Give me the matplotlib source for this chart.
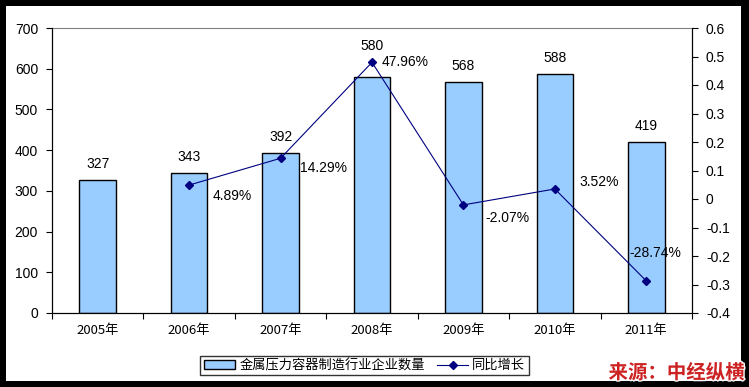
import matplotlib
matplotlib.use("Agg")
import matplotlib.pyplot as plt
import matplotlib.patheffects as pe
from matplotlib.patches import Rectangle
import numpy as np

years = ["2005年", "2006年", "2007年", "2008年", "2009年", "2010年", "2011年"]
counts = [327, 343, 392, 580, 568, 588, 419]
growth = [None, 0.0489, 0.1429, 0.4796, -0.0207, 0.0352, -0.2874]
growth_labels = ["", "4.89%", "14.29%", "47.96%", "-2.07%", "3.52%", "-28.74%"]
left_ticks = [0, 100, 200, 300, 400, 500, 600, 700]
right_ticks = [-0.4, -0.3, -0.2, -0.1, 0, 0.1, 0.2, 0.3, 0.4, 0.5, 0.6]

plt.rcParams['font.family'] = ['Liberation Sans', 'Noto Sans CJK SC', 'DejaVu Sans']

W, H = 749, 387
fig = plt.figure(figsize=(W/100, H/100), dpi=100, facecolor='black')
fig.patches.append(Rectangle((6/W, 1-381/H), (741-6)/W, (381-6)/H,
                             transform=fig.transFigure, facecolor='white',
                             edgecolor='none', zorder=-10))

ax = fig.add_axes([52/W, 1-313/H, (692-52)/W, (313-28)/H])
ax.set_facecolor('white')
x = np.arange(len(years))
ax.bar(x, counts, width=0.4, color='#99CCFF', edgecolor='black', linewidth=1.0,
       label='金属压力容器制造行业企业数量', zorder=2)
ax.set_xlim(-0.5, len(years)-0.5)
ax.set_ylim(0, 700)
ax.set_yticks(left_ticks)
ax.set_yticklabels([str(v) for v in left_ticks], fontsize=10)
ax.set_xticks(np.arange(len(years)+1)-0.5)
ax.set_xticklabels([])
ax.set_xticks(x, minor=True)
ax.set_xticklabels(years, minor=True, fontsize=9.5, family=['Noto Sans CJK SC'])
ax.tick_params(axis='x', which='minor', length=0, pad=8)
ax.tick_params(axis='x', which='major', length=4, direction='out', color='black')
ax.tick_params(axis='y', length=4, direction='out', pad=6)
for sp in ['left', 'bottom', 'right']:
    ax.spines[sp].set_color('black')
ax.spines['top'].set_color('#808080')

bar_label_gap = [16, 16, 16, 31, 16, 16, 16]
for xi, c, gap in zip(x, counts, bar_label_gap):
    ax.annotate(str(c), (xi, c), xytext=(0, gap), textcoords='offset pixels',
                ha='center', va='center', fontsize=10)

ax2 = ax.twinx()
ax2.set_ylim(-0.4, 0.6)
ax2.set_yticks(right_ticks)
ax2.set_yticklabels(["0" if abs(v) < 1e-9 else f"{v:g}" for v in right_ticks], fontsize=10)
ax2.tick_params(axis='y', length=4, direction='out', pad=6)
ax2.spines['right'].set_color('black')
ax2.spines['top'].set_visible(False)
gx = [xi for xi, g in zip(x, growth) if g is not None]
gy = [g for g in growth if g is not None]
ax2.plot(gx, gy, color='#000080', linewidth=0.8, marker='D', markersize=4,
         label='同比增长', zorder=3)

offsets = {1: (23, -11), 2: (19, -10), 3: (10, 0),
           4: (22, -13), 5: (25, 7), 6: (-17, 28)}
for i, (g, lab) in enumerate(zip(growth, growth_labels)):
    if g is None:
        continue
    dx, dy = offsets[i]
    ax2.annotate(lab, (x[i], g), xytext=(dx, dy), textcoords='offset pixels',
                 ha='left', va='center', fontsize=10)

h1, l1 = ax.get_legend_handles_labels()
h2, l2 = ax2.get_legend_handles_labels()
leg = fig.legend(h1 + h2, l1 + l2, loc='center', bbox_to_anchor=((206+523)/2/W, 1-365.5/H),
                 ncol=2, frameon=True, fancybox=False, edgecolor='black',
                 borderpad=0.25, handlelength=2.4, columnspacing=0.9, handletextpad=0.3,
                 prop={'family': ['Noto Sans CJK SC'], 'size': 9.5})
leg.get_frame().set_linewidth(1.0)

fig.text(745/W, 1-373/H, '来源：中经纵横', ha='right', va='center', color='#CC2222',
         fontsize=14, fontweight='bold', family=['Noto Sans CJK SC'],
         path_effects=[pe.withStroke(linewidth=2, foreground='white')])

fig.savefig('out.png', dpi=100, facecolor=fig.get_facecolor())
